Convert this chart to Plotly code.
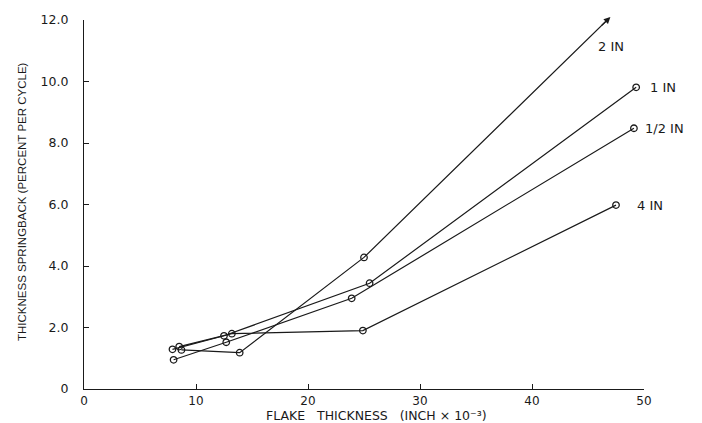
import plotly.graph_objects as go

# Data
x_half = [8.0, 12.7, 23.9, 49.1]
y_half = [0.95, 1.52, 2.95, 8.48]
x_one = [7.9, 12.5, 25.5, 49.3]
y_one = [1.29, 1.73, 3.44, 9.81]
x_two = [8.7, 13.9, 25.0, 47.0]
y_two = [1.27, 1.18, 4.28, 12.1]
x_four = [8.5, 13.2, 24.9, 47.5]
y_four = [1.38, 1.80, 1.90, 5.98]

series_names = ["1/2 IN", "1 IN", "2 IN", "4 IN"]
x_ticks = [0, 10, 20, 30, 40, 50]
x_ticktext = ["0", "10", "20", "30", "40", "50"]
y_ticks = [0, 2, 4, 6, 8, 10, 12]
y_ticktext = ["0", "2.0", "4.0", "6.0", "8.0", "10.0", "12.0"]

X_RANGE = [0, 50]
Y_RANGE = [0, 12]
W, H = 702, 423
ML, MR, MT, MB = 84, 58, 20, 34
PW, PH = W - ML - MR, H - MT - MB

FONT = "DejaVu Sans"
INK = "#1a1a1a"


def px(xv):
    return (xv - X_RANGE[0]) / (X_RANGE[1] - X_RANGE[0])


def py(yv):
    return (yv - Y_RANGE[0]) / (Y_RANGE[1] - Y_RANGE[0])


fig = go.Figure()


def add_series(xs, ys, name, end_marker=True):
    n = len(xs) if end_marker else len(xs) - 1
    fig.add_trace(go.Scatter(
        x=xs, y=ys, mode="lines", name=name,
        line=dict(color=INK, width=1.2),
        cliponaxis=False, showlegend=False, hoverinfo="skip",
    ))
    fig.add_trace(go.Scatter(
        x=xs[:n], y=ys[:n], mode="markers", name=name,
        marker=dict(symbol="circle-open", size=6.5, color=INK,
                    line=dict(color=INK, width=1.3)),
        cliponaxis=False, showlegend=False,
    ))


add_series(x_half, y_half, series_names[0])
add_series(x_one, y_one, series_names[1])
add_series(x_two, y_two, series_names[2], end_marker=False)
add_series(x_four, y_four, series_names[3])

# Arrow head at the end of the 2 IN line (direction from the previous point)
dxp = (x_two[-1] - x_two[-2]) / (X_RANGE[1] - X_RANGE[0]) * PW
dyp = (y_two[-1] - y_two[-2]) / (Y_RANGE[1] - Y_RANGE[0]) * PH
norm = (dxp ** 2 + dyp ** 2) ** 0.5
back = 14
fig.add_annotation(x=px(x_two[-1]), y=py(y_two[-1]), xref="paper", yref="paper",
                   ax=-dxp / norm * back, ay=dyp / norm * back,
                   showarrow=True, arrowhead=2, arrowsize=1.1, arrowwidth=1.2,
                   arrowcolor=INK, text="")

# Series labels (paper coordinates so they can sit beyond the axis range)
label_pos = [
    (x_half[-1] + 0.8, y_half[-1], series_names[0]),
    (x_one[-1] + 1.1, y_one[-1], series_names[1]),
    (x_two[-1] - 1.3, y_two[-1] - 0.95, series_names[2]),
    (x_four[-1] + 1.7, y_four[-1], series_names[3]),
]
for lx, ly, txt in label_pos:
    fig.add_annotation(x=px(lx), y=py(ly), xref="paper", yref="paper", text=txt,
                       showarrow=False, xanchor="left", yanchor="middle",
                       font=dict(family=FONT, size=13, color=INK))

# Axis titles
fig.add_annotation(x=(376 - ML) / PW, y=(H - MB - 415) / PH, xref="paper", yref="paper",
                   text="FLAKE   THICKNESS   (INCH × 10⁻³)", showarrow=False,
                   xanchor="center", yanchor="middle",
                   font=dict(family=FONT, size=12.5, color=INK))
fig.add_annotation(x=(22 - ML) / PW, y=(H - MB - 202) / PH, xref="paper", yref="paper",
                   text="THICKNESS SPRINGBACK (PERCENT PER CYCLE)", showarrow=False,
                   textangle=-90, xanchor="center", yanchor="middle",
                   font=dict(family="Liberation Sans", size=11.5, color=INK))

fig.update_layout(
    width=W, height=H,
    margin=dict(l=ML, r=MR, t=MT, b=MB),
    paper_bgcolor="white", plot_bgcolor="white",
    font=dict(family=FONT, color=INK),
    xaxis=dict(range=X_RANGE, tickvals=x_ticks, ticktext=x_ticktext,
               showgrid=False, zeroline=False, showline=True, linecolor=INK, linewidth=1.3,
               ticks="inside", ticklen=5, tickcolor=INK, tickwidth=1.3,
               tickfont=dict(family=FONT, size=12, color=INK), ticklabelstandoff=0),
    yaxis=dict(range=Y_RANGE, tickvals=y_ticks, ticktext=y_ticktext,
               showgrid=False, zeroline=False, showline=True, linecolor=INK, linewidth=1.3,
               ticks="inside", ticklen=5, tickcolor=INK, tickwidth=1.3,
               tickfont=dict(family=FONT, size=12.5, color=INK), ticklabelstandoff=12),
)

fig.write_html("out.html")
